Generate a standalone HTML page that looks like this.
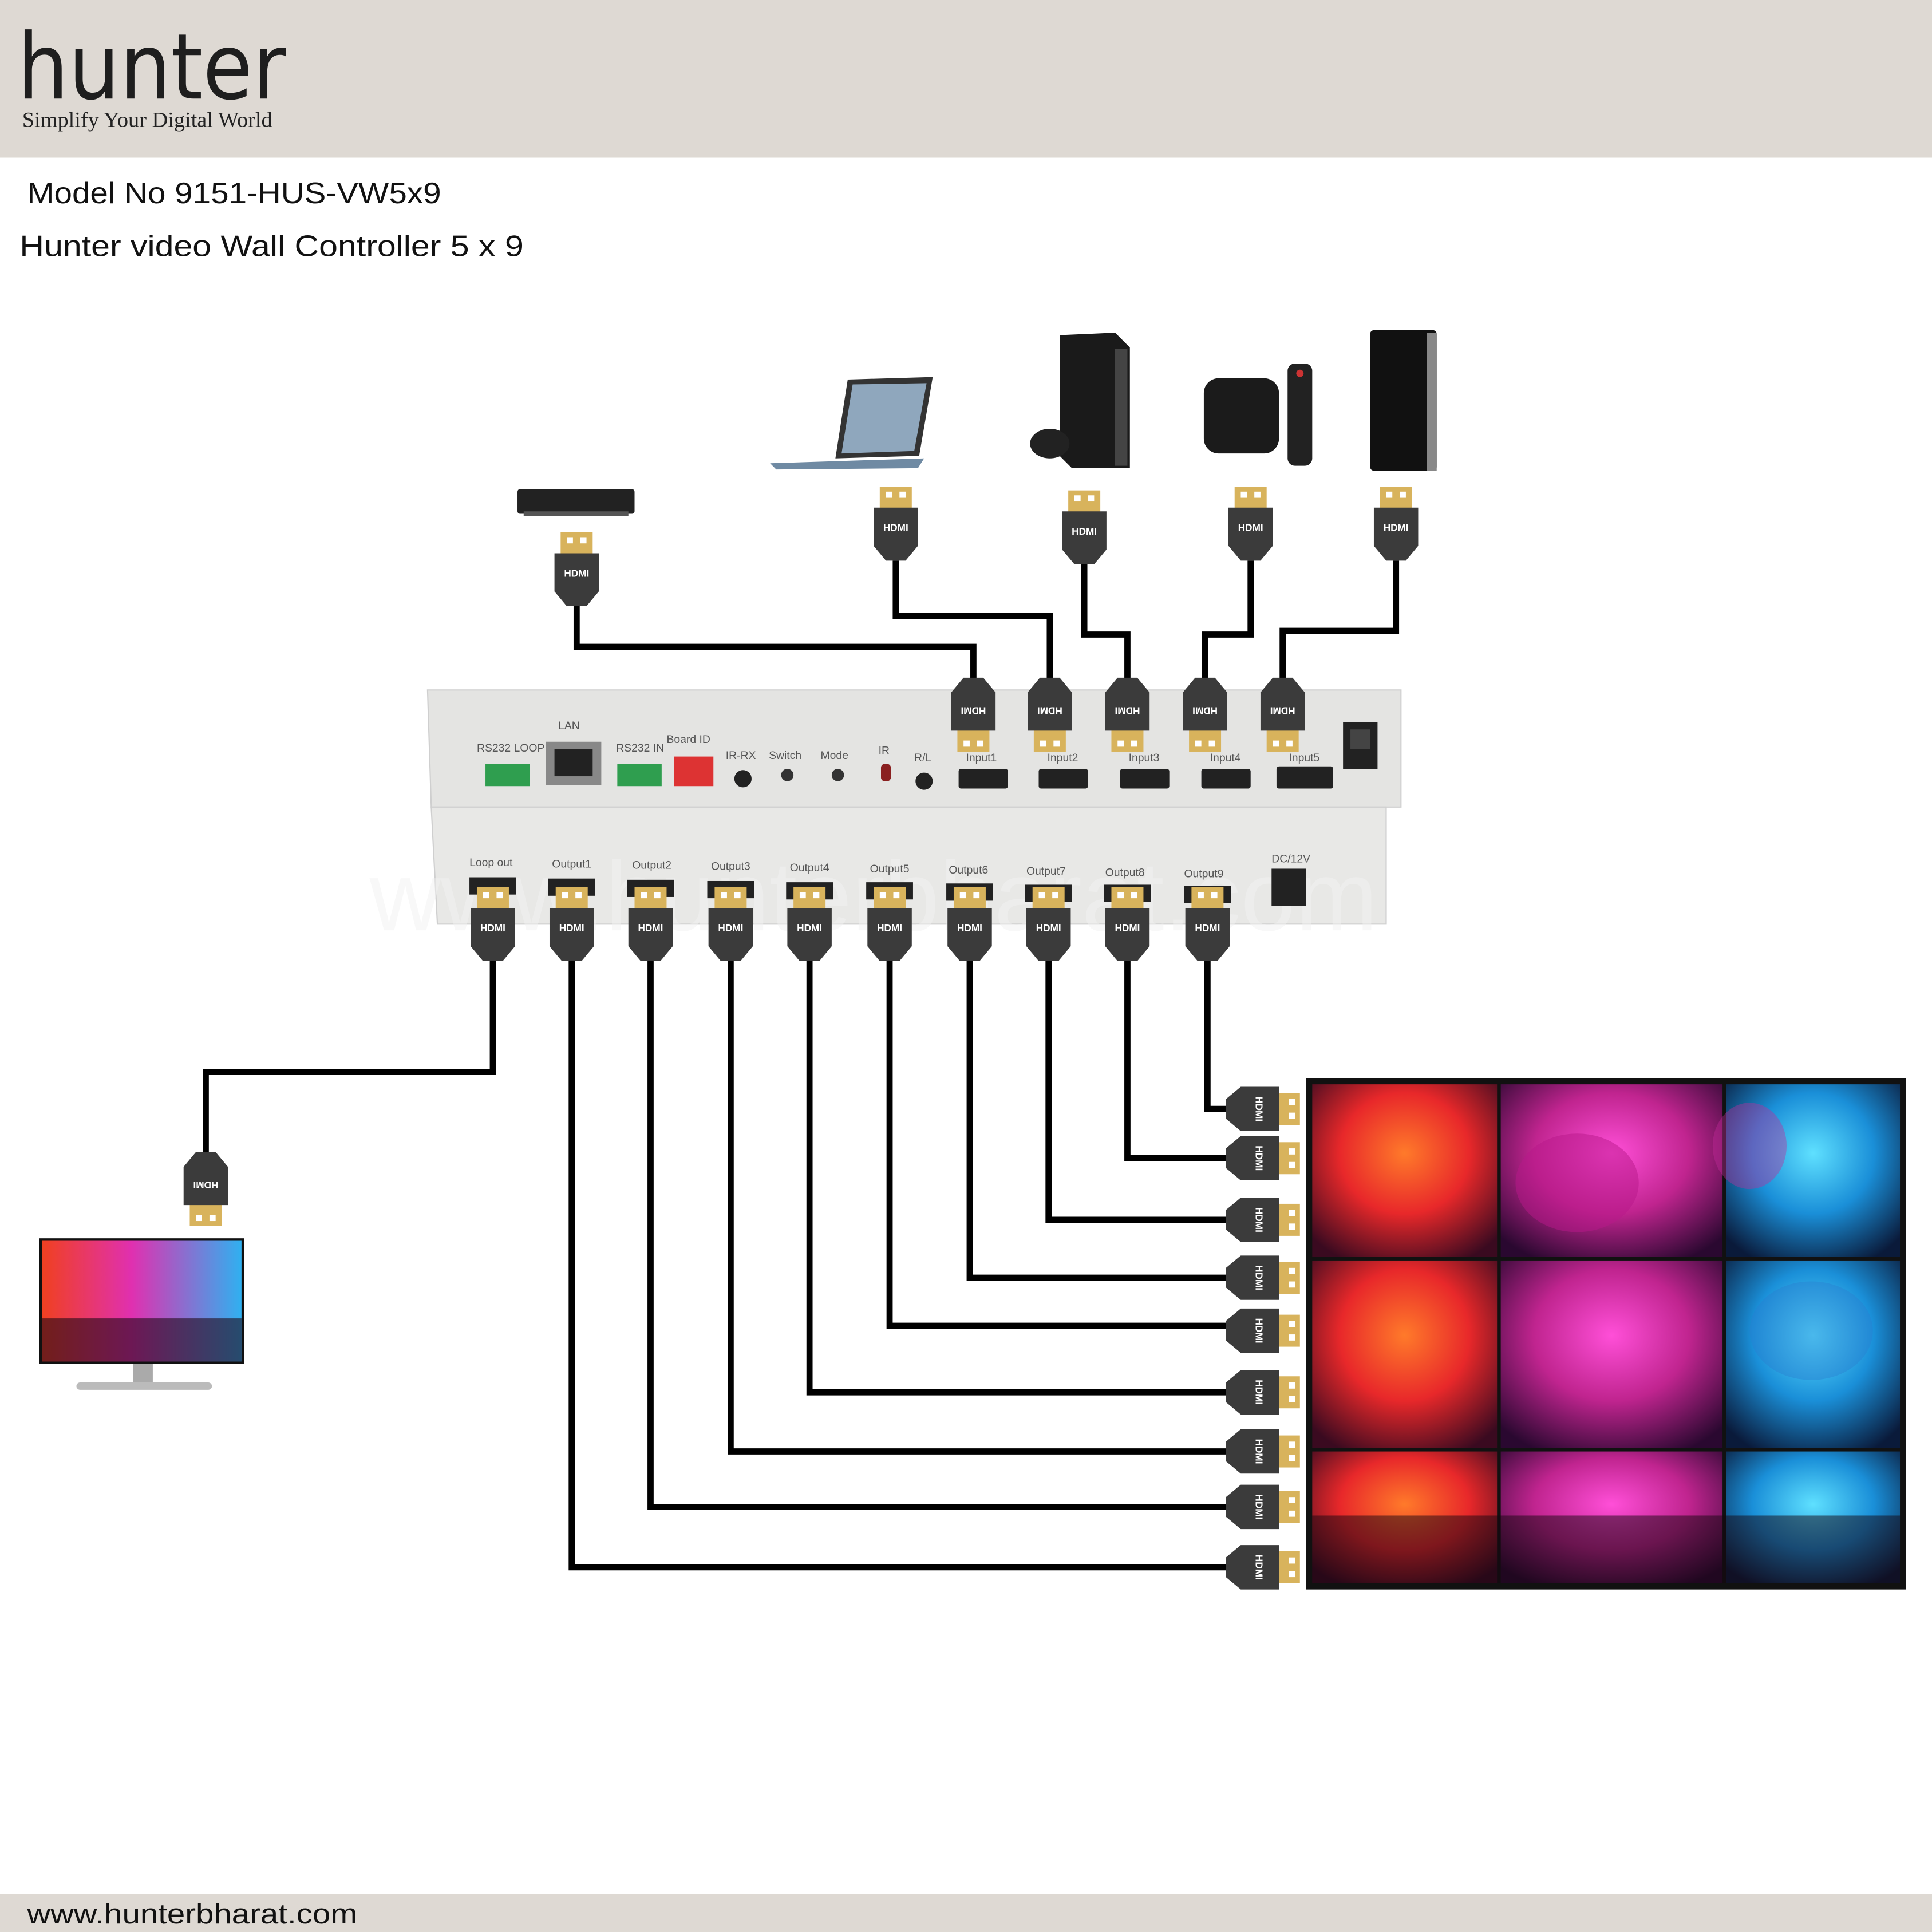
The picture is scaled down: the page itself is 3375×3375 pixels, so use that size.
<!DOCTYPE html>
<html><head><meta charset="utf-8"><style>
html,body{margin:0;padding:0;background:#fff}
svg{display:block}
</style></head><body>
<svg width="3375" height="3375" viewBox="0 0 1568 1568" xmlns="http://www.w3.org/2000/svg" font-family="Liberation Sans, sans-serif">
<defs>
<g id="cu">
<rect x="-13" y="0" width="26" height="19" fill="#d8b35c"/>
<rect x="-8" y="4" width="5" height="5" fill="#fff"/><rect x="3" y="4" width="5" height="5" fill="#fff"/>
<path d="M-18 17 H18 V48 L8 60 H-8 L-18 48 Z" fill="#3b3b3b"/>
<text x="0" y="36" font-size="8" font-weight="bold" fill="#fff" text-anchor="middle">HDMI</text>
</g>
<radialGradient id="gr" cx="0.5" cy="0.4" r="0.7"><stop offset="0" stop-color="#ff7a2a"/><stop offset="0.5" stop-color="#e8282a"/><stop offset="1" stop-color="#3a0a20"/></radialGradient>
<radialGradient id="gm" cx="0.5" cy="0.4" r="0.7"><stop offset="0" stop-color="#ff4fd8"/><stop offset="0.5" stop-color="#c0248f"/><stop offset="1" stop-color="#2a0830"/></radialGradient>
<radialGradient id="gc" cx="0.5" cy="0.4" r="0.7"><stop offset="0" stop-color="#5fe0ff"/><stop offset="0.5" stop-color="#1a8fd8"/><stop offset="1" stop-color="#0a1a3a"/></radialGradient>
<linearGradient id="gw" x1="0" y1="0" x2="1" y2="0"><stop offset="0" stop-color="#f04020"/><stop offset="0.45" stop-color="#e030b0"/><stop offset="1" stop-color="#30b0f0"/></linearGradient>
</defs>

<rect x="0" y="0" width="1568" height="128" fill="#ded9d3"/>
<text x="14" y="80" font-size="74" fill="#1e1e1e" font-family="DejaVu Sans, sans-serif" textLength="218" lengthAdjust="spacingAndGlyphs">hunter</text>
<text x="18" y="103" font-size="17" fill="#222" font-family="Liberation Serif, serif" textLength="203" lengthAdjust="spacingAndGlyphs">Simplify Your Digital World</text>
<text x="22" y="165" font-size="24" fill="#111" textLength="336" lengthAdjust="spacingAndGlyphs">Model No 9151-HUS-VW5x9</text>
<text x="16" y="208" font-size="24" fill="#111" textLength="409" lengthAdjust="spacingAndGlyphs">Hunter video Wall Controller 5 x 9</text>

<rect x="0" y="1537" width="1568" height="31" fill="#ded9d3"/>
<text x="22" y="1561" font-size="23" fill="#111" textLength="268" lengthAdjust="spacingAndGlyphs">www.hunterbharat.com</text>

<!-- sources -->
<rect x="420" y="397" width="95" height="20" rx="2" fill="#222"/><rect x="425" y="415" width="85" height="4" fill="#555"/>
<path d="M688 308 L757 306 L746 370 L678 372 Z" fill="#333"/><path d="M692 312 L752 311 L742 366 L683 368 Z" fill="#8fa7bd"/>
<path d="M625 376 L750 372 L745 380 L630 381 Z" fill="#6f8aa3"/>
<path d="M860 272 L905 270 L917 282 L917 380 L870 380 L860 370 Z" fill="#1a1a1a"/><rect x="905" y="283" width="10" height="95" fill="#444"/>
<ellipse cx="852" cy="360" rx="16" ry="12" fill="#222"/>
<rect x="977" y="307" width="61" height="61" rx="12" fill="#1b1b1b"/>
<rect x="1045" y="295" width="20" height="83" rx="6" fill="#222"/><circle cx="1055" cy="303" r="3" fill="#c33"/>
<rect x="1112" y="268" width="54" height="114" rx="3" fill="#111"/><rect x="1158" y="270" width="8" height="112" fill="#888"/>

<!-- cables -->
<g fill="none" stroke="#000" stroke-width="5">
<path d="M468 490 V525 H790 V555"/>
<path d="M727 455 V500 H852 V555"/>
<path d="M880 458 V515 H915 V555"/>
<path d="M1015 455 V515 H978 V555"/>
<path d="M1133 455 V512 H1041 V555"/>
<path d="M400 780 V870 H167 V935"/>
<path d="M464 780 V1272 H1000"/>
<path d="M528 780 V1223 H1000"/>
<path d="M593 780 V1178 H1000"/>
<path d="M657 780 V1130 H1000"/>
<path d="M722 780 V1076 H1000"/>
<path d="M787 780 V1037 H1000"/>
<path d="M851 780 V990 H1000"/>
<path d="M915 780 V940 H1000"/>
<path d="M980 780 V900 H1000"/>
</g>

<use href="#cu" transform="translate(468,432)"/>
<use href="#cu" transform="translate(727,395)"/>
<use href="#cu" transform="translate(880,398)"/>
<use href="#cu" transform="translate(1015,395)"/>
<use href="#cu" transform="translate(1133,395)"/>

<!-- device -->
<path d="M347 560 H1137 V655 H350 Z" fill="#e4e4e2" stroke="#cfcfcf"/>
<path d="M350 655 H1125 V750 H355 Z" fill="#e8e8e6" stroke="#cfcfcf"/>
<text x="300" y="755" font-size="80" fill="#f2f2f2" opacity="0.5">www.hunterbharat.com</text>
<g font-size="9" fill="#555">
<text x="387" y="610">RS232 LOOP</text><text x="453" y="592">LAN</text><text x="500" y="610">RS232 IN</text><text x="541" y="603">Board ID</text>
<text x="589" y="616">IR-RX</text><text x="624" y="616">Switch</text><text x="666" y="616">Mode</text><text x="713" y="612">IR</text><text x="742" y="618">R/L</text>
<text x="784" y="618">Input1</text><text x="850" y="618">Input2</text><text x="916" y="618">Input3</text><text x="982" y="618">Input4</text><text x="1046" y="618">Input5</text>
<text x="381" y="703">Loop out</text><text x="448" y="704">Output1</text><text x="513" y="705">Output2</text><text x="577" y="706">Output3</text><text x="641" y="707">Output4</text><text x="706" y="708">Output5</text><text x="770" y="709">Output6</text><text x="833" y="710">Output7</text><text x="897" y="711">Output8</text><text x="961" y="712">Output9</text><text x="1032" y="700">DC/12V</text>
</g>
<rect x="394" y="620" width="36" height="18" fill="#2f9e4f"/><rect x="443" y="602" width="45" height="35" fill="#888"/><rect x="450" y="608" width="31" height="22" fill="#222"/>
<rect x="501" y="620" width="36" height="18" fill="#2f9e4f"/><rect x="547" y="614" width="32" height="24" fill="#d33"/>
<circle cx="603" cy="632" r="7" fill="#222"/><circle cx="639" cy="629" r="5" fill="#333"/><circle cx="680" cy="629" r="5" fill="#333"/><rect x="715" y="620" width="8" height="14" rx="3" fill="#8a2020"/><circle cx="750" cy="634" r="7" fill="#222"/>
<rect x="778" y="624" width="40" height="16" rx="2" fill="#222"/><rect x="843" y="624" width="40" height="16" rx="2" fill="#222"/><rect x="909" y="624" width="40" height="16" rx="2" fill="#222"/><rect x="975" y="624" width="40" height="16" rx="2" fill="#222"/><rect x="1036" y="622" width="46" height="18" rx="2" fill="#222"/>
<rect x="1090" y="586" width="28" height="38" fill="#222"/><rect x="1096" y="592" width="16" height="16" fill="#444"/>
<rect x="1032" y="705" width="28" height="30" fill="#222"/>
<g fill="#222">
<rect x="381" y="712" width="38" height="14"/><rect x="445" y="713" width="38" height="14"/><rect x="509" y="714" width="38" height="14"/><rect x="574" y="715" width="38" height="14"/><rect x="638" y="716" width="38" height="14"/><rect x="703" y="716" width="38" height="14"/><rect x="768" y="717" width="38" height="14"/><rect x="832" y="718" width="38" height="14"/><rect x="896" y="718" width="38" height="14"/><rect x="961" y="719" width="38" height="14"/>
</g>

<use href="#cu" transform="translate(790,610) rotate(180)"/>
<use href="#cu" transform="translate(852,610) rotate(180)"/>
<use href="#cu" transform="translate(915,610) rotate(180)"/>
<use href="#cu" transform="translate(978,610) rotate(180)"/>
<use href="#cu" transform="translate(1041,610) rotate(180)"/>

<use href="#cu" transform="translate(400,720)"/><use href="#cu" transform="translate(464,720)"/><use href="#cu" transform="translate(528,720)"/><use href="#cu" transform="translate(593,720)"/><use href="#cu" transform="translate(657,720)"/><use href="#cu" transform="translate(722,720)"/><use href="#cu" transform="translate(787,720)"/><use href="#cu" transform="translate(851,720)"/><use href="#cu" transform="translate(915,720)"/><use href="#cu" transform="translate(980,720)"/>

<use href="#cu" transform="translate(167,995) rotate(180)"/>

<!-- monitor -->
<rect x="32" y="1005" width="166" height="102" fill="#111"/>
<rect x="34" y="1007" width="162" height="98" fill="url(#gw)"/>
<rect x="34" y="1070" width="162" height="35" fill="#200818" opacity="0.6"/>
<rect x="108" y="1107" width="16" height="15" fill="#aaa"/><rect x="62" y="1122" width="110" height="6" rx="3" fill="#bbb"/>

<!-- video wall -->
<rect x="1060" y="875" width="487" height="415" fill="#111"/>
<rect x="1065" y="880" width="150" height="140" fill="url(#gr)"/><rect x="1218" y="880" width="180" height="140" fill="url(#gm)"/><rect x="1401" y="880" width="141" height="140" fill="url(#gc)"/>
<rect x="1065" y="1023" width="150" height="152" fill="url(#gr)"/><rect x="1218" y="1023" width="180" height="152" fill="url(#gm)"/><rect x="1401" y="1023" width="141" height="152" fill="url(#gc)"/>
<rect x="1065" y="1178" width="150" height="107" fill="url(#gr)"/><rect x="1218" y="1178" width="180" height="107" fill="url(#gm)"/><rect x="1401" y="1178" width="141" height="107" fill="url(#gc)"/>
<ellipse cx="1280" cy="960" rx="50" ry="40" fill="#b8188a" opacity="0.5"/>
<ellipse cx="1420" cy="930" rx="30" ry="35" fill="#c22a9a" opacity="0.4"/>
<ellipse cx="1470" cy="1080" rx="50" ry="40" fill="#2a7ed0" opacity="0.4"/>
<rect x="1065" y="1230" width="477" height="55" fill="#150510" opacity="0.5"/>

<use href="#cu" transform="translate(1055,900) rotate(90)"/><use href="#cu" transform="translate(1055,940) rotate(90)"/><use href="#cu" transform="translate(1055,990) rotate(90)"/><use href="#cu" transform="translate(1055,1037) rotate(90)"/><use href="#cu" transform="translate(1055,1080) rotate(90)"/><use href="#cu" transform="translate(1055,1130) rotate(90)"/><use href="#cu" transform="translate(1055,1178) rotate(90)"/><use href="#cu" transform="translate(1055,1223) rotate(90)"/><use href="#cu" transform="translate(1055,1272) rotate(90)"/>
</svg>
</body></html>
